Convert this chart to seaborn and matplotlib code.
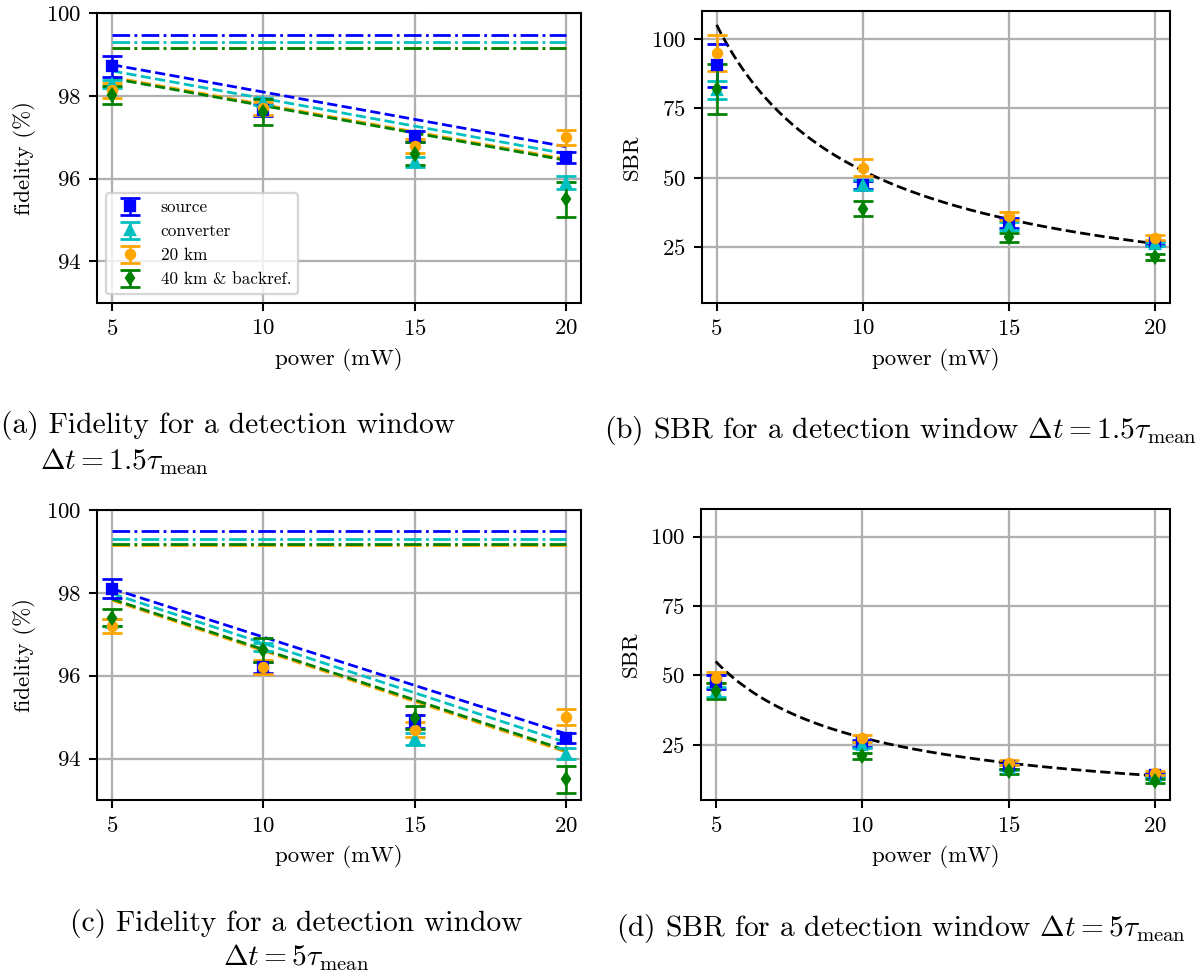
import numpy as np
import seaborn as sns
from matplotlib import pyplot as plt

# measured points
power = [5, 10, 15, 20]
labels = ['source', 'converter', '20 km', '40 km & backref.']
colors = ['blue', 'c', 'orange', 'green']
markers = ['s', '^', 'o', 'd']

# (a) fidelity, window 1.5 tau_mean
fid_a_source = [98.71, 97.66, 97.02, 96.51]
fid_a_source_err = [0.25, 0.15, 0.14, 0.13]
fid_a_converter = [98.29, 97.86, 96.41, 95.90]
fid_a_converter_err = [0.10, 0.08, 0.12, 0.15]
fid_a_20km = [98.13, 97.70, 96.79, 97.00]
fid_a_20km_err = [0.18, 0.16, 0.17, 0.18]
fid_a_40km = [98.02, 97.60, 96.60, 95.50]
fid_a_40km_err = [0.22, 0.31, 0.28, 0.42]
fid_a_limit = [99.48, 99.31, 99.15, 99.15]
fid_a_fit_start = [98.75, 98.60, 98.45, 98.42]
fid_a_fit_end = [96.77, 96.60, 96.47, 96.44]

# (b) SBR, window 1.5 tau_mean
sbr_b_source = [90.4, 47.4, 33.8, 26.6]
sbr_b_source_err = [7.8, 1.5, 1.8, 0.7]
sbr_b_converter = [81.6, 47.4, 32.7, 26.1]
sbr_b_converter_err = [3.2, 1.7, 1.4, 0.8]
sbr_b_20km = [94.8, 53.6, 36.2, 28.4]
sbr_b_20km_err = [6.4, 3.0, 1.3, 0.9]
sbr_b_40km = [81.9, 38.9, 28.5, 21.5]
sbr_b_40km_err = [9.0, 2.6, 1.6, 1.2]
sbr_b_fit_coeff = 525.0  # SBR ~ a / power

# (c) fidelity, window 5 tau_mean
fid_c_source = [98.10, 96.20, 94.90, 94.50]
fid_c_source_err = [0.23, 0.13, 0.16, 0.12]
fid_c_converter = [97.28, 96.70, 94.47, 94.12]
fid_c_converter_err = [0.08, 0.10, 0.15, 0.13]
fid_c_20km = [97.20, 96.20, 94.70, 95.00]
fid_c_20km_err = [0.18, 0.17, 0.18, 0.20]
fid_c_40km = [97.40, 96.62, 94.99, 93.50]
fid_c_40km_err = [0.20, 0.30, 0.28, 0.32]
fid_c_limit = [99.50, 99.31, 99.16, 99.19]
fid_c_fit_start = [98.10, 97.98, 97.82, 97.85]
fid_c_fit_end = [94.60, 94.39, 94.16, 94.20]

# (d) SBR, window 5 tau_mean
sbr_d_source = [47.7, 25.5, 17.1, 14.1]
sbr_d_source_err = [2.5, 1.2, 0.8, 0.5]
sbr_d_converter = [44.1, 24.9, 16.7, 13.5]
sbr_d_converter_err = [1.8, 1.2, 0.8, 0.5]
sbr_d_20km = [49.2, 27.3, 18.5, 14.7]
sbr_d_20km_err = [2.0, 1.2, 0.8, 0.6]
sbr_d_40km = [44.3, 20.9, 15.3, 11.9]
sbr_d_40km_err = [2.8, 1.2, 1.0, 0.8]
sbr_d_fit_coeff = 275.0

sns.set_style("ticks")
plt.rcParams.update({
    'font.family': ['cmr10', 'DejaVu Serif'],
    'mathtext.fontset': 'cm',
    'axes.formatter.use_mathtext': True,
    'axes.unicode_minus': False,
    'font.size': 10,
    'text.color': 'black',
    'axes.labelcolor': 'black',
    'axes.edgecolor': 'black',
    'axes.linewidth': 0.9,
    'xtick.color': 'black',
    'ytick.color': 'black',
    'xtick.major.size': 3.5,
    'ytick.major.size': 3.5,
    'xtick.major.width': 0.9,
    'ytick.major.width': 0.9,
    'axes.grid': True,
    'grid.color': '#b0b0b0',
    'grid.linewidth': 1.0,
})

fig = plt.figure(figsize=(1199 / 165, 978 / 165), dpi=165)
W, H = 1199, 978


def box(left, top, right, bottom):
    return [left / W, 1 - bottom / H, (right - left) / W, (bottom - top) / H]


ax_a = fig.add_axes(box(97, 13, 581, 302.7))
ax_b = fig.add_axes(box(702, 11, 1170, 302.7))
ax_c = fig.add_axes(box(97, 510, 581, 800))
ax_d = fig.add_axes(box(701, 509, 1170, 800))


def draw_points(ax, series, errs, legend=False):
    for vals, err, lab, col, mk in zip(series, errs, labels, colors, markers):
        ax.errorbar(power, vals, yerr=err, fmt=mk, color=col, markersize=4,
                    capsize=4.3, elinewidth=1.1, capthick=1.2, label=lab)
    if legend:
        ax.legend(loc='lower left', fontsize=7.5, frameon=True, fancybox=True,
                  framealpha=0.8, edgecolor='0.8')


def fidelity_panel(ax, series, errs, limit, fit_start, fit_end, legend=False):
    for lim, col in zip(limit, colors):
        sns.lineplot(x=[power[0], power[-1]], y=[lim, lim], color=col,
                     linestyle='-.', linewidth=1.2, ax=ax, legend=False)
    for y0, y1, col in zip(fit_start, fit_end, colors):
        sns.lineplot(x=[power[0], power[-1]], y=[y0, y1], color=col,
                     linestyle='--', linewidth=1.2, ax=ax, legend=False)
    draw_points(ax, series, errs, legend)
    ax.set_xlim(4.5, 20.5)
    ax.set_ylim(93, 100)
    ax.set_yticks([94, 96, 98, 100])
    ax.set_xticks(power)
    ax.set_xlabel('power (mW)')
    ax.set_ylabel('fidelity (%)')


def sbr_panel(ax, series, errs, coeff):
    p_fine = np.linspace(power[0], power[-1], 200)
    sns.lineplot(x=p_fine, y=coeff / p_fine, color='black', linestyle='--',
                 linewidth=1.2, ax=ax, legend=False)
    draw_points(ax, series, errs)
    ax.set_xlim(4.5, 20.5)
    ax.set_ylim(5, 110)
    ax.set_yticks([25, 50, 75, 100])
    ax.set_xticks(power)
    ax.set_xlabel('power (mW)')
    ax.set_ylabel('SBR')


fidelity_panel(ax_a,
               [fid_a_source, fid_a_converter, fid_a_20km, fid_a_40km],
               [fid_a_source_err, fid_a_converter_err, fid_a_20km_err, fid_a_40km_err],
               fid_a_limit, fid_a_fit_start, fid_a_fit_end, legend=True)
sbr_panel(ax_b,
          [sbr_b_source, sbr_b_converter, sbr_b_20km, sbr_b_40km],
          [sbr_b_source_err, sbr_b_converter_err, sbr_b_20km_err, sbr_b_40km_err],
          sbr_b_fit_coeff)
fidelity_panel(ax_c,
               [fid_c_source, fid_c_converter, fid_c_20km, fid_c_40km],
               [fid_c_source_err, fid_c_converter_err, fid_c_20km_err, fid_c_40km_err],
               fid_c_limit, fid_c_fit_start, fid_c_fit_end)
sbr_panel(ax_d,
          [sbr_d_source, sbr_d_converter, sbr_d_20km, sbr_d_40km],
          [sbr_d_source_err, sbr_d_converter_err, sbr_d_20km_err, sbr_d_40km_err],
          sbr_d_fit_coeff)

# sub-captions
cap = 12.9
fig.text(1 / W, 1 - 425 / H, '(a) Fidelity for a detection window', fontsize=cap,
         ha='left', va='center')
fig.text(40 / W, 1 - 462 / H, r'$\Delta t = 1.5\tau_\mathrm{mean}$', fontsize=cap,
         ha='left', va='center')
fig.text(901 / W, 1 - 430 / H,
         r'(b) SBR for a detection window $\Delta t = 1.5\tau_\mathrm{mean}$',
         fontsize=cap, ha='center', va='center')
fig.text(296 / W, 1 - 923 / H, '(c) Fidelity for a detection window', fontsize=cap,
         ha='center', va='center')
fig.text(296 / W, 1 - 958 / H, r'$\Delta t = 5\tau_\mathrm{mean}$', fontsize=cap,
         ha='center', va='center')
fig.text(901 / W, 1 - 928 / H,
         r'(d) SBR for a detection window $\Delta t = 5\tau_\mathrm{mean}$',
         fontsize=cap, ha='center', va='center')

fig.savefig('out.png', dpi=165)
